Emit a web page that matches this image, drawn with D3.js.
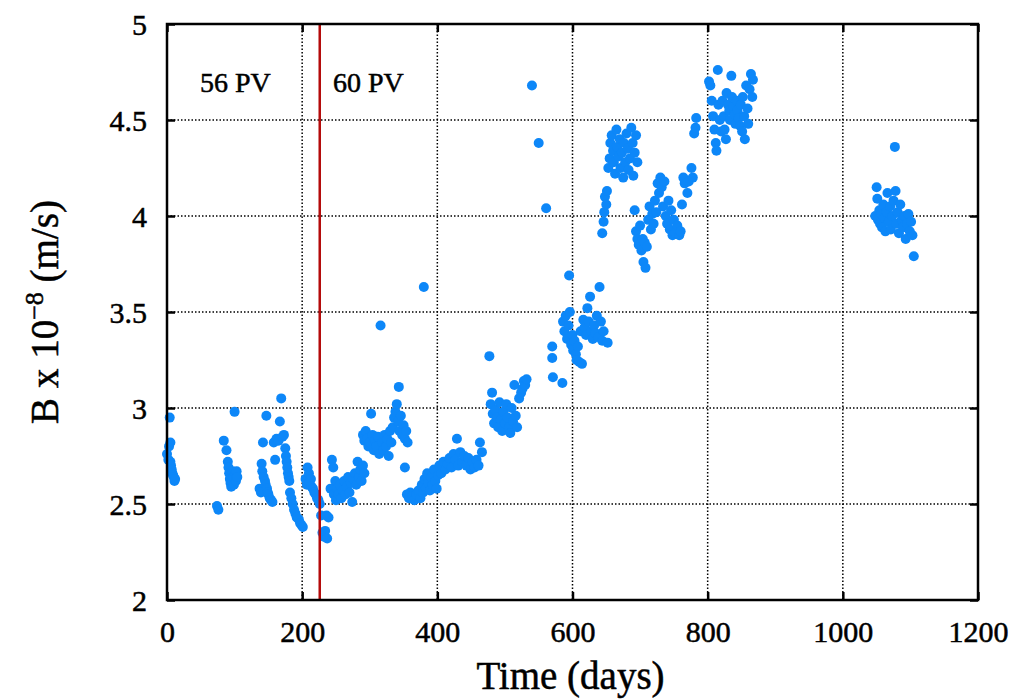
<!DOCTYPE html>
<html>
<head>
<meta charset="utf-8">
<script src="https://cdn.jsdelivr.net/npm/d3@7"></script>
<style>
  body { margin: 0; background: #fff; }
  text { font-family: "Liberation Serif", "DejaVu Serif", serif; fill: #000; stroke: #000; stroke-width: 0.5px; }
</style>
</head>
<body>
<svg id="chart" width="1030" height="699"></svg>
<script>
// axis ticks
const xTicks = [0, 200, 400, 600, 800, 1000, 1200];
const yTicks = [2, 2.5, 3, 3.5, 4, 4.5, 5];
const changeDay = 226;   // 56 PV -> 60 PV

const runA = [[0,2.76],[2,2.73],[3,2.80],[4,2.95],[5,2.82],[5,2.72],[6,2.70],[7,2.68],[8,2.66],[9,2.65],[10,2.64],[11,2.62],[12,2.63]];
const runB = [[74,2.49],[76,2.47]];
const runC = [[84,2.83],[88,2.78],[90,2.72],[91,2.69],[92,2.66],[93,2.63],[94,2.61],[95,2.59],[96,2.62],[97,2.67],[98,2.64],[99,2.60],[100,2.98],[101,2.66],[102,2.62],[103,2.67],[104,2.64]];
const runD = [[137,2.58],[139,2.56],[140,2.71],[141,2.67],[142,2.82],[143,2.64],[145,2.62],[146,2.60],[147,2.96],[148,2.58],[149,2.56],[150,2.55],[152,2.53],[154,2.52],[156,2.51],[160,2.73]];
const runE = [[158,2.82],[162,2.84],[165,2.83],[167,2.93],[169,3.05],[171,2.85],[173,2.86],[175,2.79],[176,2.75],[177,2.72],[178,2.69],[179,2.66],[180,2.64],[181,2.62],[182,2.56],[184,2.53],[186,2.50],[188,2.47],[190,2.45],[192,2.43],[195,2.42],[197,2.40],[199,2.39],[201,2.38]];
const runF = [[205,2.63],[207,2.60],[208,2.69],[210,2.66],[211,2.61],[213,2.63],[214,2.59],[216,2.58],[218,2.56],[220,2.55],[222,2.53],[224,2.52],[226,2.50],[228,2.44],[230,2.35],[232,2.33],[234,2.36],[236,2.44],[237,2.32],[239,2.43]];
const runG = [[242,2.58],[244,2.73],[246,2.69],[247,2.55],[249,2.62],[250,2.52],[252,2.58],[254,2.55],[256,2.60],[258,2.53],[260,2.57],[262,2.62],[264,2.55],[266,2.59],[268,2.64],[270,2.56],[272,2.61],[274,2.51],[276,2.63],[278,2.66],[280,2.60],[282,2.72],[284,2.64],[286,2.68],[288,2.62],[290,2.70],[292,2.66]];
const runH = [[290,2.86],[292,2.83],[294,2.88],[296,2.84],[298,2.80],[300,2.82],[302,2.97],[304,2.86],[306,2.78],[308,2.83],[310,2.80],[312,2.85],[314,2.76],[316,3.43],[318,2.82],[320,2.78],[322,2.86],[324,2.80],[326,2.84],[328,2.75],[330,2.88],[332,2.82]];
const runI = [[334,2.90],[336,2.95],[338,2.98],[340,3.02],[342,2.93],[343,3.11],[344,2.88],[346,2.96],[348,2.86],[350,2.91],[352,2.84],[354,2.88],[356,2.82]];
const runJ = [[352,2.69],[355,2.55],[358,2.53],[360,2.56],[363,2.54],[366,2.52],[369,2.55],[372,2.57],[375,2.53],[377,2.60],[379,2.56],[380,3.63],[381,2.63],[383,2.58],[385,2.66],[387,2.61],[389,2.57],[391,2.64],[393,2.60],[395,2.68],[397,2.62],[399,2.58],[401,2.65],[403,2.70],[406,2.66],[409,2.72],[412,2.68],[415,2.71],[418,2.74],[421,2.69],[424,2.76],[427,2.73],[429,2.84],[431,2.70],[434,2.77],[437,2.72],[440,2.75],[443,2.70],[446,2.74],[449,2.68],[452,2.72],[455,2.69],[458,2.73],[461,2.70],[463,2.82],[466,2.77]];
const runK = [[477,3.27],[479,3.02],[481,3.08],[482,2.97],[484,2.92],[486,2.99],[488,2.95],[490,2.90],[492,3.03],[494,2.94],[496,2.88],[498,2.98],[500,2.92],[502,3.02],[504,2.95],[506,2.90],[508,2.87],[510,3.00],[512,2.93],[514,3.12],[516,2.96],[518,2.90],[521,3.05],[524,3.08],[526,3.10],[528,3.14],[530,3.12],[532,3.15]];
const runIso = [[540,4.68],[550,4.38],[561,4.04],[570,3.32],[570,3.26],[571,3.16],[585,3.13]];
const runL = [[586,3.45],[588,3.40],[590,3.48],[592,3.36],[594,3.43],[595,3.69],[596,3.50],[598,3.33],[600,3.38],[601,3.30],[603,3.35],[605,3.28],[606,3.25],[608,3.32],[610,3.24],[612,3.40],[614,3.23],[616,3.46],[618,3.42],[620,3.38],[622,3.52],[624,3.45],[626,3.58],[628,3.40],[630,3.36],[632,3.43],[634,3.39],[636,3.48],[638,3.37],[640,3.63],[642,3.45],[644,3.35],[646,3.40],[652,3.34]];
const runM = [[644,3.91],[646,3.97],[647,4.02],[648,4.10],[650,4.06],[651,4.13],[653,4.25],[655,4.30],[656,4.38],[658,4.42],[660,4.34],[661,4.28],[663,4.22],[665,4.45],[666,4.36],[668,4.31],[670,4.40],[671,4.25],[673,4.33],[675,4.20],[676,4.38],[678,4.28],[680,4.43],[682,4.35],[683,4.24],[685,4.30],[687,4.46],[689,4.38],[690,4.21],[692,4.33],[694,4.42],[696,4.28]];
const runN = [[692,4.03],[694,3.92],[696,3.88],[698,3.85],[700,3.95],[702,3.82],[704,3.88],[705,3.76],[707,3.86],[708,3.73],[710,3.84],[712,3.98],[714,4.05],[716,3.93],[718,4.01],[720,3.96],[722,4.08],[724,4.02],[726,4.17],[728,4.12],[730,4.20],[732,4.15],[734,4.05],[736,4.18],[738,4.00],[740,3.96],[742,4.08],[744,3.93],[746,4.03],[748,3.90],[750,3.98],[752,3.91],[755,3.95],[758,3.90],[760,3.92],[762,4.06],[764,4.20],[766,4.17],[770,4.12],[772,4.18],[776,4.25],[778,4.20],[780,4.43],[782,4.46],[783,4.51]];
const runO = [[802,4.70],[804,4.68],[806,4.60],[808,4.52],[810,4.45],[812,4.38],[813,4.34],[815,4.76],[816,4.58],[818,4.50],[820,4.44],[822,4.60],[824,4.52],[825,4.45],[827,4.40],[828,4.64],[830,4.58],[832,4.55],[833,4.50],[835,4.73],[836,4.62],[838,4.57],[840,4.53],[841,4.48],[843,4.60],[844,4.55],[846,4.51],[848,4.47],[849,4.58],[851,4.44],[852,4.62],[854,4.52],[855,4.40],[857,4.68],[859,4.56],[860,4.48],[862,4.66],[864,4.74],[866,4.62],[867,4.71]];
const runP = [[1048,4.00],[1050,4.15],[1051,4.09],[1052,3.98],[1054,4.03],[1055,3.96],[1057,4.01],[1058,3.94],[1060,4.06],[1061,3.99],[1063,3.92],[1065,4.02],[1066,4.12],[1068,3.97],[1070,4.05],[1071,3.93],[1073,4.00],[1075,4.08],[1077,4.36],[1078,4.13],[1079,3.96],[1081,4.02],[1083,3.91],[1085,4.06],[1087,3.98],[1089,3.94],[1091,4.00],[1093,3.88],[1095,3.96],[1097,4.01],[1099,3.92],[1101,3.97],[1103,3.90],[1105,3.79]];

const points = [].concat(runA, runB, runC, runD, runE, runF, runG, runH, runI, runJ, runK, runIso, runL, runM, runN, runO, runP);

// layout
const m = {left: 167, top: 24, right: 52, bottom: 99};
const W = 1030, H = 699;
const w = W - m.left - m.right;
const h = H - m.top - m.bottom;

const svg = d3.select("#chart");
const g = svg.append("g").attr("transform", `translate(${m.left},${m.top})`);

const x = d3.scaleLinear().domain([0, 1200]).range([0, w]);
const y = d3.scaleLinear().domain([2, 5]).range([h, 0]);

// dotted grid
g.selectAll(".gx").data(xTicks.slice(1, -1)).enter().append("line")
  .attr("x1", d => x(d)).attr("x2", d => x(d))
  .attr("y1", 0).attr("y2", h)
  .attr("stroke", "#000").attr("stroke-width", 1.5).attr("stroke-dasharray", "1.5,2");
g.selectAll(".gy").data(yTicks.slice(1, -1)).enter().append("line")
  .attr("x1", 0).attr("x2", w)
  .attr("y1", d => y(d)).attr("y2", d => y(d))
  .attr("stroke", "#000").attr("stroke-width", 1.5).attr("stroke-dasharray", "1.5,2");

// points
g.selectAll("circle").data(points).enter().append("circle")
  .attr("cx", d => x(d[0]))
  .attr("cy", d => y(d[1]))
  .attr("r", 5)
  .attr("fill", "#0d87f8");

// change marker
g.append("line")
  .attr("x1", x(changeDay)).attr("x2", x(changeDay))
  .attr("y1", 0).attr("y2", h)
  .attr("stroke", "#b40a0a").attr("stroke-width", 2.5);

// axes, inward ticks on all four sides
const tick = 8;
const fmt = d3.format("");
const xb = g.append("g").attr("transform", `translate(0,${h})`)
  .call(d3.axisBottom(x).tickValues(xTicks).tickSize(-tick).tickSizeOuter(0).tickPadding(21).tickFormat(fmt));
const xt = g.append("g")
  .call(d3.axisTop(x).tickValues(xTicks).tickSize(-tick).tickSizeOuter(0).tickFormat(""));
const yl = g.append("g")
  .call(d3.axisLeft(y).tickValues(yTicks).tickSize(-tick).tickSizeOuter(0).tickPadding(20).tickFormat(fmt));
const yr = g.append("g").attr("transform", `translate(${w},0)`)
  .call(d3.axisRight(y).tickValues(yTicks).tickSize(-tick).tickSizeOuter(0).tickFormat(""));

[xb, xt, yl, yr].forEach(a => {
  a.select(".domain").remove();
  a.selectAll("line").attr("stroke", "#000").attr("stroke-width", 2.5);
});
xb.selectAll("text").style("font-size", "30px").attr("font-family", null).attr("fill", null);
yl.selectAll("text").style("font-size", "30px").attr("font-family", null).attr("fill", null).attr("dy", "0.35em");

g.append("rect")
  .attr("width", w).attr("height", h)
  .attr("fill", "none").attr("stroke", "#000").attr("stroke-width", 2.5);

// labels
g.append("text").attr("x", 33).attr("y", 68).style("font-size", "28px").text("56 PV");
g.append("text").attr("x", 166).attr("y", 68).style("font-size", "28px").text("60 PV");

svg.append("text")
  .attr("x", m.left + w / 2 - 2).attr("y", 689)
  .attr("text-anchor", "middle")
  .style("font-size", "39px")
  .text("Time (days)");

const yt = svg.append("text")
  .attr("transform", `translate(58,${m.top + h / 2}) rotate(-90)`)
  .attr("text-anchor", "middle")
  .style("font-size", "39px");
yt.append("tspan").text("B x 10");
yt.append("tspan").attr("dy", -15).style("font-size", "26px").text("\u22128");
yt.append("tspan").attr("dy", 15).text(" (m/s)");
</script>
</body>
</html>
